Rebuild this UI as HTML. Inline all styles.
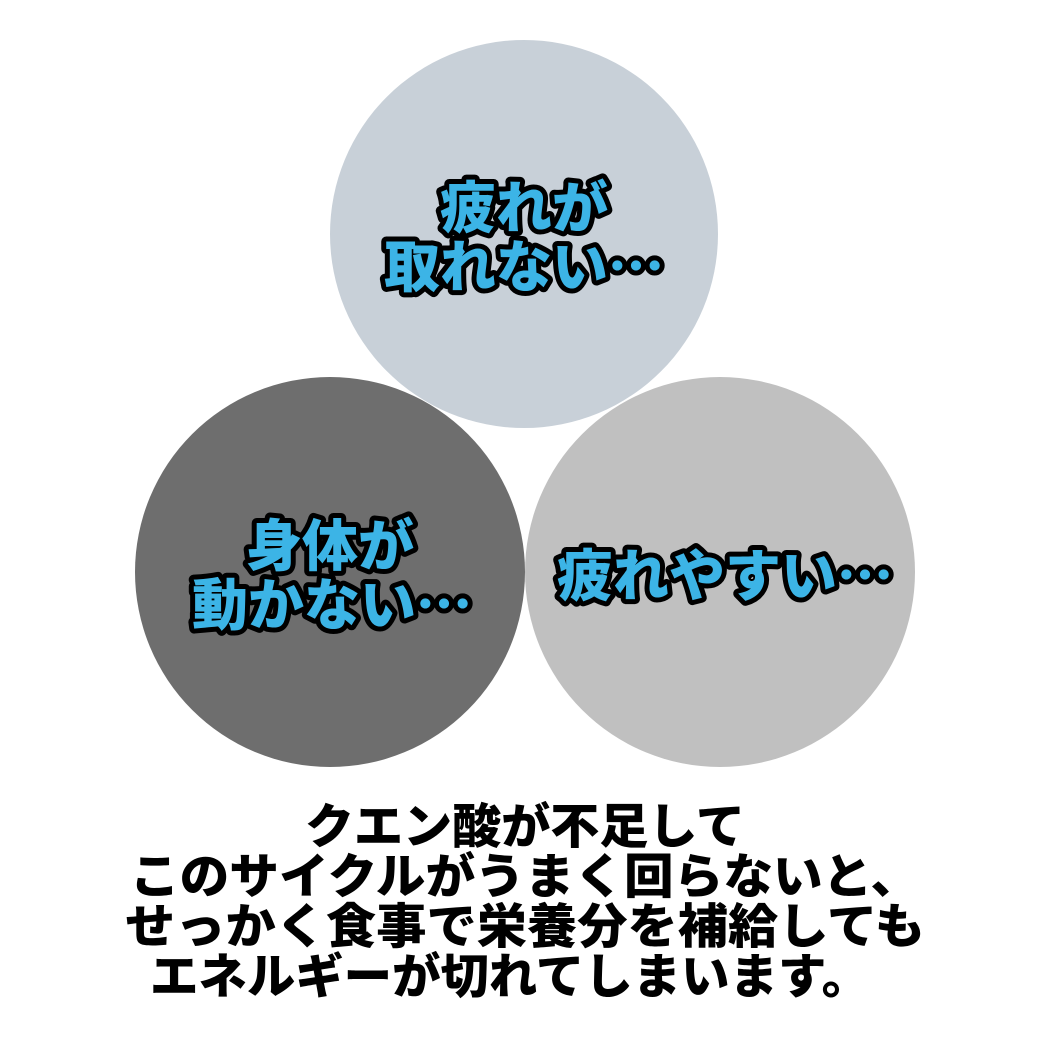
<!DOCTYPE html>
<html><head><meta charset="utf-8"><style>
html,body{margin:0;padding:0;background:#fff;width:1050px;height:1050px;overflow:hidden}
</style></head><body>
<svg width="1050" height="1050" viewBox="0 0 1050 1050" xmlns="http://www.w3.org/2000/svg">
<rect width="1050" height="1050" fill="#fff"/>
<circle cx="524" cy="234" r="194" fill="#c8d0d8"/>
<circle cx="330" cy="572" r="195" fill="#6e6e6e"/>
<circle cx="720" cy="572" r="195" fill="#c0c0c0"/>
<g font-family="'Noto Sans CJK JP', sans-serif" font-weight="900" font-size="56" text-anchor="middle" fill="#3cb4e6" stroke="#000" stroke-width="10" stroke-linejoin="round" paint-order="stroke">
<text x="524" y="228">疲れが</text>
<text x="524" y="287">取れない…</text>
<text x="330" y="566">身体が</text>
<text x="332" y="625">動かない…</text>
<text x="725" y="596">疲れやすい…</text>
</g>
<g font-family="'Noto Sans CJK JP', sans-serif" font-weight="900" font-size="48" fill="#000">
<text x="305" y="843" textLength="440" lengthAdjust="spacingAndGlyphs">クエン酸が不足して</text>
<text x="130" y="893" textLength="790" lengthAdjust="spacingAndGlyphs">このサイクルがうまく回らないと、</text>
<text x="125" y="943" textLength="800" lengthAdjust="spacingAndGlyphs">せっかく食事で栄養分を補給しても</text>
<text x="150" y="993" textLength="720" lengthAdjust="spacingAndGlyphs">エネルギーが切れてしまいます。</text>
</g>
</svg>
</body></html>
